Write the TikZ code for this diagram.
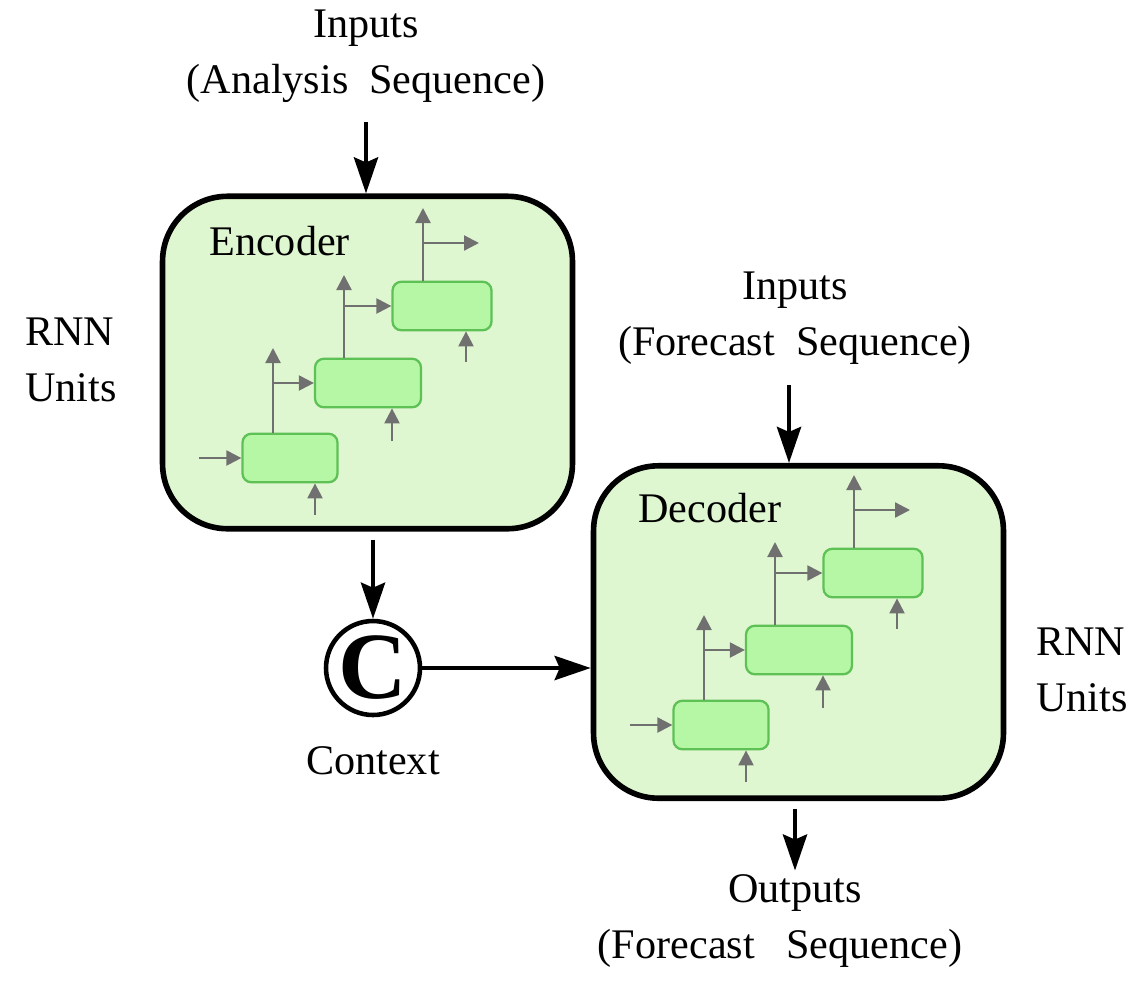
\documentclass[tikz,border=0pt]{standalone}
\usepackage{fontspec}
\setmainfont{Liberation Serif}
\usepackage{tikz}
\usetikzlibrary{arrows.meta,positioning}
\definecolor{boxgreen}{HTML}{DFF7D0}
\definecolor{cellgreen}{HTML}{B6F7A6}
\definecolor{cellline}{HTML}{5DC155}
\definecolor{flowgray}{HTML}{707070}
\tikzset{
  txt/.style={font=\fontsize{24}{32}\selectfont, inner sep=2pt},
  block/.style={draw, line width=3.2pt, rounded corners=1.3cm, fill=boxgreen,
    minimum width=8.2cm, minimum height=6.65cm},
  cell/.style={draw=cellline, fill=cellgreen, line width=1.3pt, rounded corners=5pt,
    minimum height=0.97cm},
  link/.style={line width=2.7pt, -{Stealth[length=0.72cm,width=0.48cm,inset=0.1cm]}},
  flow/.style={draw=flowgray, line width=1.3pt, -{Triangle[length=0.3cm,width=0.3cm]}}
}

\begin{document}
\begin{tikzpicture}[x=0.02cm,y=-0.02cm]
        \useasboundingbox (0,0) rectangle (1142,998);
        % Encoder and decoder blocks
        \node[block] (enc) at (367.5,362.5) {};
        \node[block] (dec) at (798.5,632) {};
        \node[txt, anchor=base west, inner sep=0pt] (enclbl) at (209,255) {Encoder};
        \node[txt, anchor=base west, inner sep=0pt] (declbl) at (638,522) {Decoder};
        % Label the blocks
        \node[txt, align=center] (inA) at (366,56) {Inputs\\(Analysis\ \ Sequence)};
        \node[txt, align=center] (inB) at (795,318) {Inputs\\(Forecast\ \ Sequence)};
        \node[txt, align=center] (out) at (780,921) {\hspace*{0.6cm}Outputs\\(Forecast\ \ \ Sequence)};
        \node[txt, align=left] (unitsA) at (71,360) {RNN\\Units};
        \node[txt, align=left] (unitsB) at (1082,670) {RNN\\Units};
        % Context vector
        \node[draw, circle, line width=2.6pt, minimum size=1.88cm, inner sep=0pt,
          font=\fontsize{54}{54}\selectfont\bfseries] (ctx) at (373,668) {C};
        \node[txt] (ctxlbl) [below=0.5cm of ctx] {Context};
        % Main connections
        \draw[link, shorten <=0.32cm] (inA.south) -- (inA.south |- enc.north);
        \draw[link, shorten <=0.16cm] (ctx.north |- enc.south) -- (ctx.north);
        \draw[link] (ctx.east) -- (ctx.east -| dec.west);
        \draw[link, shorten <=0.34cm] ([xshift=-0.12cm]inB.south) -- ([xshift=-0.12cm]inB.south |- dec.north);
        \draw[link, shorten <=0.16cm] ([xshift=-0.07cm]dec.south) -- ([xshift=-0.07cm]dec.south |- out.north);
        % RNN units in the encoder
        \node[cell, minimum width=1.9cm] (e1) at (290,458) {};
        \node[cell, minimum width=2.12cm] (e2) at (368,383) {};
        \node[cell, minimum width=1.98cm] (e3) at (442,306) {};
        \draw[flow] (199,458) -- (e1.west);
        \draw[flow] (315,515) -- (315,515 |- e1.south);
        \draw[flow] (e1.north -| 273,0) -- (273,348);
        \draw[flow] (273,383) -- (e2.west);
        \draw[flow] (392,441) -- (392,441 |- e2.south);
        \draw[flow] (e2.north -| 344,0) -- (344,275);
        \draw[flow] (344,306) -- (e3.west);
        \draw[flow] (466,362) -- (466,362 |- e3.south);
        \draw[flow] (e3.north -| 423,0) -- (423,208);
        \draw[flow] (423,243) -- (479,243);
        % RNN units in the decoder
        \node[cell, minimum width=1.9cm] (d1) at (721,725) {};
        \node[cell, minimum width=2.12cm] (d2) at (799,650) {};
        \node[cell, minimum width=1.98cm] (d3) at (873,573) {};
        \draw[flow] (630,725) -- (d1.west);
        \draw[flow] (746,782) -- (746,782 |- d1.south);
        \draw[flow] (d1.north -| 704,0) -- (704,615);
        \draw[flow] (704,650) -- (d2.west);
        \draw[flow] (823,708) -- (823,708 |- d2.south);
        \draw[flow] (d2.north -| 775,0) -- (775,542);
        \draw[flow] (775,573) -- (d3.west);
        \draw[flow] (897,629) -- (897,629 |- d3.south);
        \draw[flow] (d3.north -| 854,0) -- (854,475);
        \draw[flow] (854,510) -- (910,510);
    \end{tikzpicture}
\end{document}
